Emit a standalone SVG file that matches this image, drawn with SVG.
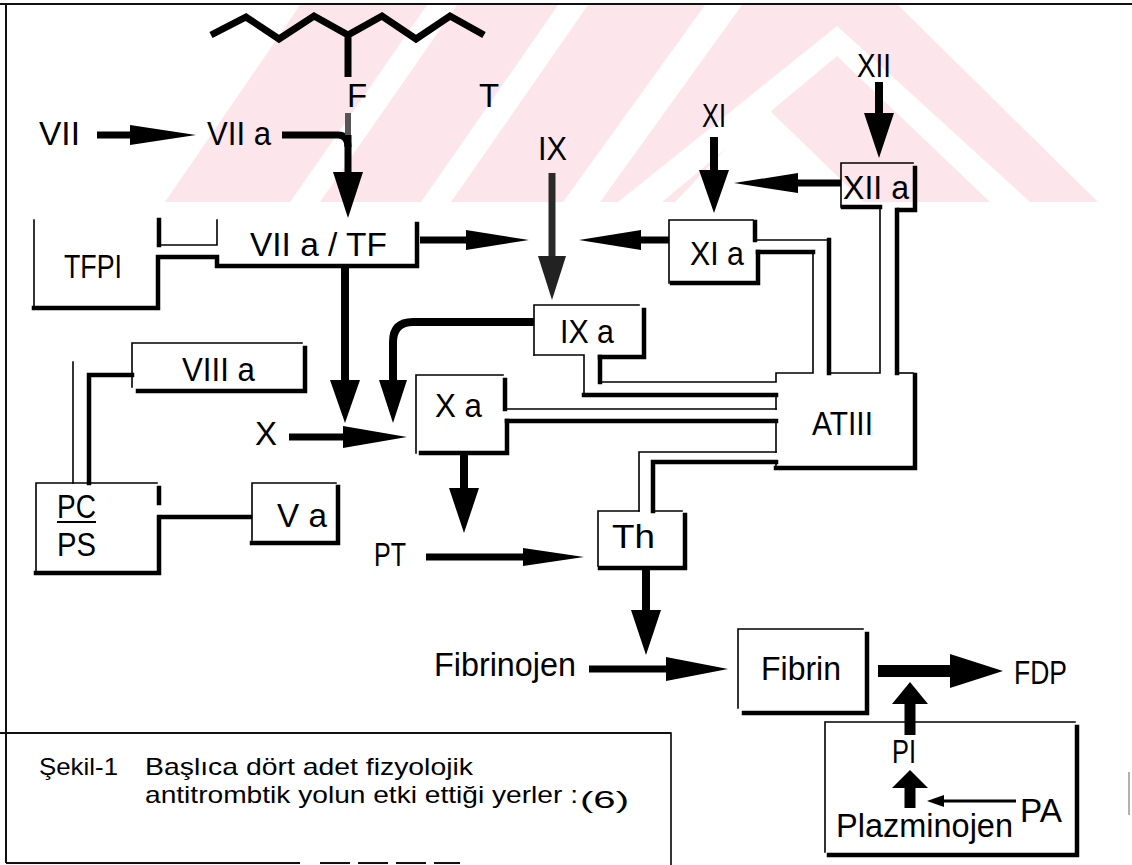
<svg xmlns="http://www.w3.org/2000/svg" width="1132" height="865" viewBox="0 0 1132 865">
<defs>
<style>
.thin{fill:none;stroke:#000;stroke-width:1.6;stroke-linecap:square}
.thick{fill:none;stroke:#000;stroke-width:4.5;stroke-linecap:square}
.shaft{fill:none;stroke:#000;stroke-width:7}
.vshaft{fill:none;stroke:#000;stroke-width:8}
.head{fill:#000;stroke:none}
.lbl{font-family:"Liberation Sans",Arial,sans-serif;font-size:33px;fill:#000}
.cap{font-family:"Liberation Sans",Arial,sans-serif;font-size:24px;fill:#000}
.frame{fill:none;stroke:#111;stroke-width:2}
.wm{fill:#fde6eb;stroke:none}
.wmw{fill:#fff;stroke:none}
</style>
<linearGradient id="g1" x1="0" y1="0" x2="1" y2="0">
<stop offset="0" stop-color="#000"/>
<stop offset="0.5" stop-color="#555"/>
<stop offset="1" stop-color="#888"/>
</linearGradient>
</defs>
<rect width="1132" height="865" fill="#fff"/>
<g id="watermark">
<polygon class="wm" points="165,202 300,5 898,5 1098,202"/>
<polygon class="wmw" points="290,202 320,202 457,5 427,5"/>
<polygon class="wmw" points="421,202 451,202 588,5 558,5"/>
<polygon class="wmw" points="563,202 600,202 742,5 705,5"/>
<polygon class="wmw" points="618,202 837,26 1030,202 990,202 837,56 662,202"/>
<polygon class="wmw" points="675,202 766,107 864,202"/>
</g>
<g id="frame">
<path class="frame" d="M0,4 H1132"/>
<path class="frame" d="M6,4 V863"/>
<path class="frame" d="M6,863 H300"/>
<path class="frame" d="M320,863 H460" stroke-dasharray="30 8"/>
<path class="frame" d="M0,733 H671"/>
<path class="thin" d="M671,733 V865"/>
<path d="M1129,772 V815" stroke="#999" stroke-width="1.5"/>
</g>
<g id="connectors">
<path d="M211,35 L246,17 L279,39 L314,16 L348,35 L382,16 L416,39 L450,16 L484,35 M348,35 V77" fill="none" stroke="#000" stroke-width="7" stroke-linejoin="miter"/>
<path class="shaft" d="M97,135 H134"/>
<polygon class="head" points="130,125 196,135 130,145" fill="url(#g1)"/>
<path class="shaft" d="M282,135 H338 Q348,135 348,147"/>
<path d="M348,113 V135" stroke="#555" stroke-width="6"/>
<path class="shaft" d="M348,135 V176"/>
<polygon class="head" points="333,172 363,172 348,218"/>
<path class="vshaft" d="M345,266 V383"/>
<polygon class="head" points="330,380 360,380 345,423"/>
<path class="shaft" d="M420,240 H469"/>
<polygon class="head" points="466,230 529,240 466,250"/>
<path d="M552,173 V259" stroke="#2a2a2a" stroke-width="7"/>
<polygon points="538,256 566,256 552,300" fill="#222"/>
<path class="shaft" d="M669,240 H638"/>
<polygon class="head" points="641,230 579,240 641,250"/>
<path class="vshaft" d="M714,137 V173"/>
<polygon class="head" points="699,170 729,170 714,213"/>
<path class="shaft" d="M841,183 H795"/>
<polygon class="head" points="798,173 734,183 798,193"/>
<path class="vshaft" d="M879,82 V116"/>
<polygon class="head" points="864,113 894,113 879,158"/>
<path class="vshaft" d="M534,322 H413 Q393,322 393,342 V383"/>
<polygon class="head" points="379,380 407,380 393,423"/>
<path class="shaft" d="M289,437 H346"/>
<polygon class="head" points="343,426 407,437 343,448"/>
<path class="vshaft" d="M464,453 V491"/>
<polygon class="head" points="449,488 479,488 464,533"/>
<path class="shaft" d="M426,557 H526"/>
<polygon class="head" points="523,548 584,557 523,566"/>
<path class="vshaft" d="M646,568 V613"/>
<polygon class="head" points="631,610 661,610 646,655"/>
<path class="shaft" d="M589,669 H669"/>
<polygon class="head" points="666,657 728,669 666,681"/>
<path d="M878,671 H953" stroke="#000" stroke-width="12"/>
<polygon class="head" points="950,654 1003,671 950,688"/>
<path d="M910,735 V701" stroke="#000" stroke-width="11"/>
<polygon class="head" points="892,704 928,704 910,682"/>
<path d="M910,808 V785" stroke="#000" stroke-width="11"/>
<polygon class="head" points="892,788 928,788 910,770"/>
<path d="M1016,801 H940" stroke="#000" stroke-width="3"/>
<polygon class="head" points="944,795 927,801 944,807"/>
</g>
<g id="n-F"><text class="lbl" x="347" y="107">F</text></g>
<g id="n-T"><text class="lbl" x="479" y="107">T</text></g>
<g id="n-VII"><text class="lbl" x="39" y="145" textLength="41" lengthAdjust="spacingAndGlyphs">VII</text></g>
<g id="n-VIIa"><text class="lbl" x="207" y="145" textLength="64" lengthAdjust="spacingAndGlyphs">VII a</text></g>
<g id="n-VIIaTF-TFPI">
<path class="thin" d="M34,220 V308"/>
<path class="thick" d="M34,308 H158 V257 H217 V266 H417 V224"/>
<path class="thick" d="M159,220 V245"/>
<path class="thin" d="M159,245 H217 V220"/>
<text class="lbl" x="250" y="256" textLength="137" lengthAdjust="spacingAndGlyphs">VII a / TF</text>
<text class="lbl" x="64" y="278" font-size="30" textLength="58" lengthAdjust="spacingAndGlyphs">TFPI</text>
</g>
<g id="n-IX"><text class="lbl" x="538" y="160" textLength="29" lengthAdjust="spacingAndGlyphs">IX</text></g>
<g id="n-XI"><text class="lbl" x="702" y="127" textLength="24" lengthAdjust="spacingAndGlyphs">XI</text></g>
<g id="n-XII"><text class="lbl" x="857" y="77" textLength="34" lengthAdjust="spacingAndGlyphs">XII</text></g>
<g id="n-XIIa">
<path class="thin" d="M841,207 V163 H913"/>
<path class="thick" d="M915,168 V210 H899"/>
<path class="thick" d="M843,207 H880"/>
<text class="lbl" x="843" y="199" textLength="66" lengthAdjust="spacingAndGlyphs">XII a</text>
</g>
<g id="n-XIa">
<path class="thin" d="M669,283 V220 H753"/>
<path class="thick" d="M755,222 V240"/>
<path class="thick" d="M672,283 H758 V252"/>
<text class="lbl" x="690" y="265" textLength="54" lengthAdjust="spacingAndGlyphs">XI a</text>
</g>
<g id="n-IXa">
<path class="thin" d="M534,355 V305 H639"/>
<path class="thick" d="M644,310 V357 H600"/>
<path class="thin" d="M534,355 H584 V395"/>
<text class="lbl" x="560" y="343" textLength="54" lengthAdjust="spacingAndGlyphs">IX a</text>
</g>
<g id="n-Xa">
<path class="thin" d="M416,453 V375 H503"/>
<path class="thick" d="M505,380 V409"/>
<path class="thick" d="M507,421 V453 H421"/>
<text class="lbl" x="435" y="417" textLength="47" lengthAdjust="spacingAndGlyphs">X a</text>
</g>
<g id="n-ATIII">
<path class="thick" d="M600,357 V382"/>
<path class="thin" d="M600,382 H776 V373 H813 V252"/>
<path class="thick" d="M758,252 H813"/>
<path class="thick" d="M584,395 H776"/>
<path class="thin" d="M505,409 H776"/>
<path class="thick" d="M507,421 H776"/>
<path class="thin" d="M755,240 H829"/>
<path class="thick" d="M829,240 V373"/>
<path class="thin" d="M829,373 H880 V207"/>
<path class="thick" d="M897,210 V373"/>
<path class="thin" d="M897,373 H913"/>
<path class="thick" d="M915,375 V468 H776"/>
<path class="thin" d="M776,395 V409 M776,421 V452 M776,462 V468"/>
<path class="thin" d="M639,511 V452 H776"/>
<path class="thick" d="M653,511 V462 H776"/>
<text class="lbl" x="812" y="435" textLength="61" lengthAdjust="spacingAndGlyphs">ATIII</text>
</g>
<g id="n-Th">
<path class="thin" d="M598,566 V511 H639 M653,511 H682"/>
<path class="thick" d="M685,515 V568 H600"/>
<text class="lbl" x="612" y="548" textLength="43" lengthAdjust="spacingAndGlyphs">Th</text>
</g>
<g id="n-VIIIa">
<path class="thin" d="M132,387 V343 H302"/>
<path class="thick" d="M305,348 V391 H138"/>
<text class="lbl" x="182" y="381" textLength="73" lengthAdjust="spacingAndGlyphs">VIII a</text>
</g>
<g id="n-PCPS">
<path class="thick" d="M132,375 H89 V483"/>
<path class="thin" d="M73,362 V483"/>
<path class="thin" d="M36,573 V483 H157"/>
<path class="thick" d="M159,488 V503"/>
<path class="thick" d="M250,517 H159 V573 H36"/>
<text class="lbl" x="57" y="518" font-size="30" textLength="39" lengthAdjust="spacingAndGlyphs">PC</text>
<path d="M57,522 H96" stroke="#000" stroke-width="2"/>
<text class="lbl" x="57" y="556" font-size="30" textLength="39" lengthAdjust="spacingAndGlyphs">PS</text>
</g>
<g id="n-Va">
<path class="thin" d="M252,540 V483 H336"/>
<path class="thick" d="M338,487 V543 H252"/>
<text class="lbl" x="277" y="527" textLength="50" lengthAdjust="spacingAndGlyphs">V a</text>
</g>
<g id="n-X"><text class="lbl" x="255" y="445" textLength="22" lengthAdjust="spacingAndGlyphs">X</text></g>
<g id="n-PT"><text class="lbl" x="374" y="566" textLength="32" lengthAdjust="spacingAndGlyphs">PT</text></g>
<g id="n-Fibrinojen"><text class="lbl" x="434" y="676" textLength="142" lengthAdjust="spacingAndGlyphs">Fibrinojen</text></g>
<g id="n-Fibrin">
<path class="thin" d="M738,708 V629 H863"/>
<path class="thick" d="M867,634 V713 H744"/>
<text class="lbl" x="761" y="680" textLength="80" lengthAdjust="spacingAndGlyphs">Fibrin</text>
</g>
<g id="n-FDP"><text class="lbl" x="1014" y="684" textLength="53" lengthAdjust="spacingAndGlyphs">FDP</text></g>
<g id="n-fibrinolysis">
<path class="thin" d="M825,852 V722 H1075"/>
<path class="thick" d="M1077,727 V855 H829"/>
<text class="lbl" x="892" y="763" textLength="24" lengthAdjust="spacingAndGlyphs">PI</text>
<text class="lbl" x="836" y="837" textLength="177" lengthAdjust="spacingAndGlyphs">Plazminojen</text>
<text class="lbl" x="1020" y="822" textLength="42" lengthAdjust="spacingAndGlyphs">PA</text>
</g>
<g id="caption">
<text class="cap" x="39" y="775" textLength="79" lengthAdjust="spacingAndGlyphs">Şekil-1</text>
<text class="cap" x="145" y="775" textLength="328" lengthAdjust="spacingAndGlyphs">Başlıca dört adet fizyolojik</text>
<text class="cap" x="145" y="803" textLength="433" lengthAdjust="spacingAndGlyphs">antitrombtik yolun etki ettiği yerler :</text>
<text class="cap" x="580" y="808" font-size="30" textLength="49" lengthAdjust="spacingAndGlyphs">(6)</text>
</g>
</svg>
